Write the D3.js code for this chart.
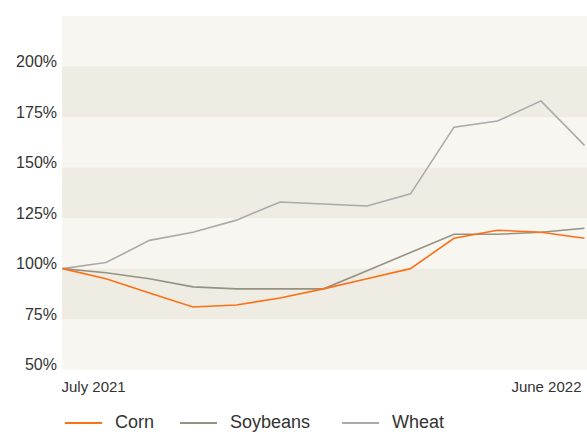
<!DOCTYPE html>
<html>
<head>
<meta charset="utf-8">
<script src="https://cdn.jsdelivr.net/npm/d3@7"></script>
<style>
  html, body { margin: 0; padding: 0; background: #ffffff; }
  svg { display: block; font-family: "Liberation Sans", Arial, Helvetica, sans-serif; }
</style>
</head>
<body>
<svg id="chart" width="587" height="432"></svg>
<script>
// ---- Data (index: July 2021 = 100%) ----
const months = ["Jul 2021","Aug 2021","Sep 2021","Oct 2021","Nov 2021","Dec 2021","Jan 2022","Feb 2022","Mar 2022","Apr 2022","May 2022","Jun 2022","Jun 2022 end"];
const corn     = [100, 95, 88, 81, 82, 85.5, 90, 95, 100, 115, 119, 118, 115];
const soybeans = [100, 98, 95, 91, 90, 90, 90, 99, 108, 117, 117, 118, 120];
const wheat    = [100, 103, 114, 118, 124, 133, 132, 131, 137, 170, 173, 183, 161];
const yTicks = [50, 75, 100, 125, 150, 175, 200];
const xTickLabels = ["July 2021", "June 2022"];
const seriesNames = ["Corn", "Soybeans", "Wheat"];

const colors = { Corn: "#fd7014", Soybeans: "#959282", Wheat: "#aaaaaa" };
const series = [
  { name: "Corn", values: corn },
  { name: "Soybeans", values: soybeans },
  { name: "Wheat", values: wheat }
];

const svg = d3.select("#chart");
const plot = { left: 62, right: 587, top: 16, bottom: 369.7 };

const x = d3.scalePoint().domain(months).range([plot.left + 0.5, plot.right - 2.5]);
const y = d3.scaleLinear().domain([50, 225]).range([plot.bottom, plot.top]);

// background
svg.append("rect")
  .attr("x", plot.left).attr("y", plot.top)
  .attr("width", plot.right - plot.left).attr("height", plot.bottom - plot.top)
  .attr("fill", "#f8f6f1");

// alternating bands
const bandStarts = [75, 125, 175];
svg.append("g").selectAll("rect").data(bandStarts).join("rect")
  .attr("x", plot.left)
  .attr("width", plot.right - plot.left)
  .attr("y", d => y(d + 25))
  .attr("height", d => y(d) - y(d + 25))
  .attr("fill", "#efece4");

// y axis labels
const yAxis = d3.axisLeft(y).tickValues(yTicks).tickFormat(d => d + "%").tickSize(0).tickPadding(5);
const gy = svg.append("g").attr("transform", `translate(${plot.left},0)`).call(yAxis);
gy.select(".domain").remove();
gy.selectAll("text")
  .attr("font-size", 16)
  .attr("fill", "#333333")
  .attr("dy", "0em")
  .attr("x", -5)
  .style("font-family", "'Liberation Sans', Arial, sans-serif");

// x axis labels (first and last only)
const xLabelMonths = [months[0], months[months.length - 1]];
const gx = svg.append("g");
gx.selectAll("text").data(xLabelMonths).join("text")
  .attr("x", (d, i) => i === 0 ? x(d) - 1 : x(d) - 3)
  .attr("y", 392)
  .attr("text-anchor", (d, i) => i === 0 ? "start" : "end")
  .attr("font-size", 15)
  .attr("fill", "#333333")
  .text((d, i) => xTickLabels[i]);

// lines
const line = d3.line().x((d, i) => x(months[i])).y(d => y(d));
svg.append("g").selectAll("path").data(series.slice().reverse()).join("path")
  .attr("d", d => line(d.values))
  .attr("fill", "none")
  .attr("stroke", d => colors[d.name])
  .attr("stroke-width", 1.6)
  .attr("stroke-linejoin", "miter");

// legend
const legendX = [65, 180, 342];
const lg = svg.append("g").selectAll("g").data(seriesNames).join("g")
  .attr("transform", (d, i) => `translate(${legendX[i]},423)`);
lg.append("line")
  .attr("x1", 0).attr("x2", 37).attr("y1", 0).attr("y2", 0)
  .attr("stroke", d => colors[d]).attr("stroke-width", 1.8);
lg.append("text")
  .attr("x", 50).attr("y", 5)
  .attr("font-size", 18)
  .attr("fill", "#333333")
  .text(d => d);
</script>
</body>
</html>
